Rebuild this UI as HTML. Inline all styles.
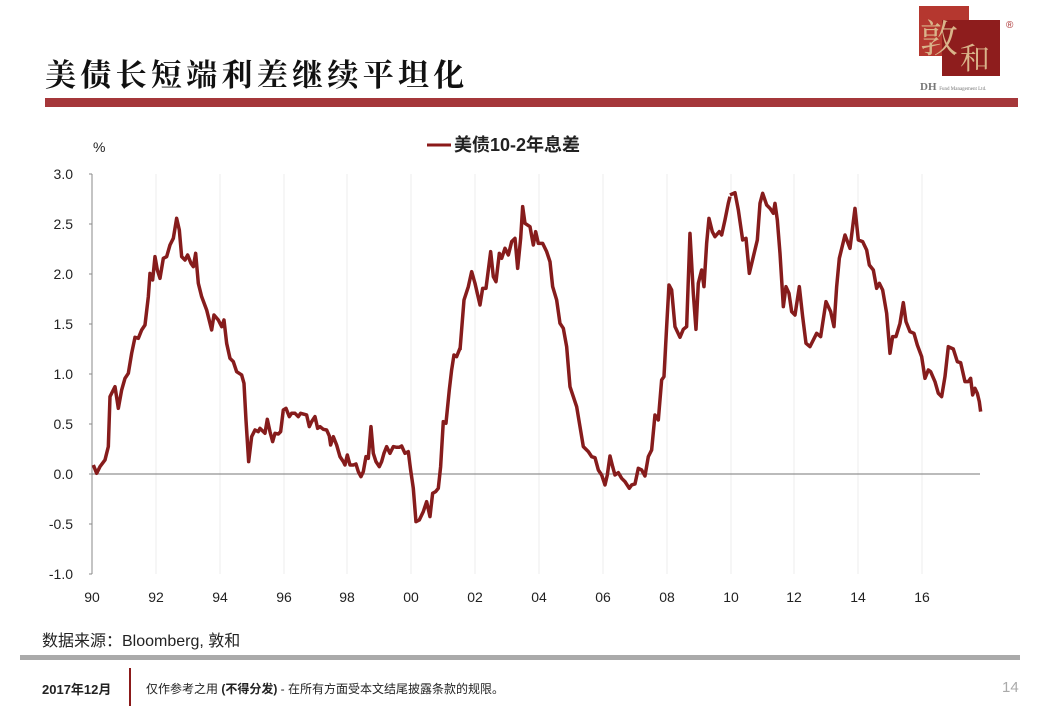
<!DOCTYPE html>
<html><head><meta charset="utf-8"><style>
body{margin:0;width:1064px;height:713px;background:#fff;position:relative;overflow:hidden;font-family:"Liberation Sans","Noto Sans CJK SC",sans-serif}
.a{position:absolute;white-space:nowrap}
</style></head><body>
<div class="a" style="left:45px;top:50px;font-size:31px;font-weight:bold;font-family:'Noto Serif CJK SC','Noto Sans CJK SC',serif;letter-spacing:4.3px;color:#111">美债长短端利差继续平坦化</div>
<div class="a" style="left:45px;top:98px;width:973px;height:9px;background:#a5373a"></div>
<div class="a" style="left:919px;top:6px;width:50px;height:50px;background:#b5372f"></div>
<div class="a" style="left:942px;top:20px;width:58px;height:56px;background:#8e1d1d"></div>
<div class="a" style="left:920px;top:8px;font-size:38px;color:#d9b48a;font-family:'Noto Serif CJK SC',serif">敦</div>
<div class="a" style="left:960px;top:34px;font-size:30px;color:#d9b48a;font-family:'Noto Serif CJK SC',serif">和</div>
<div class="a" style="left:1006px;top:20px;font-size:10px;color:#a33">®</div>
<div class="a" style="left:920px;top:81px;font-size:11px;font-weight:bold;color:#777;font-family:'Liberation Serif',serif">DH <span style="font-size:5px;font-weight:normal">Fund Management Ltd.</span></div>

<svg class="a" style="left:0;top:0" width="1064" height="713">
<g stroke="#eeeeee" stroke-width="1">
<line x1="156" y1="174" x2="156" y2="574"/><line x1="220" y1="174" x2="220" y2="574"/><line x1="284" y1="174" x2="284" y2="574"/><line x1="347" y1="174" x2="347" y2="574"/><line x1="411" y1="174" x2="411" y2="574"/><line x1="475" y1="174" x2="475" y2="574"/><line x1="539" y1="174" x2="539" y2="574"/><line x1="603" y1="174" x2="603" y2="574"/><line x1="667" y1="174" x2="667" y2="574"/><line x1="731" y1="174" x2="731" y2="574"/><line x1="794" y1="174" x2="794" y2="574"/><line x1="858" y1="174" x2="858" y2="574"/><line x1="922" y1="174" x2="922" y2="574"/>
</g>
<g stroke="#888" stroke-width="1">
<line x1="92" y1="174" x2="92" y2="574"/>
<line x1="92" y1="474" x2="980" y2="474" stroke="#777"/>
<line x1="89" y1="174" x2="92" y2="174"/><line x1="89" y1="224" x2="92" y2="224"/><line x1="89" y1="274" x2="92" y2="274"/><line x1="89" y1="324" x2="92" y2="324"/><line x1="89" y1="374" x2="92" y2="374"/><line x1="89" y1="424" x2="92" y2="424"/><line x1="89" y1="474" x2="92" y2="474"/><line x1="89" y1="524" x2="92" y2="524"/><line x1="89" y1="574" x2="92" y2="574"/>
</g>
<g font-size="14" fill="#222" text-anchor="end" font-family="Liberation Sans,sans-serif">
<text x="73" y="179">3.0</text><text x="73" y="229">2.5</text><text x="73" y="279">2.0</text><text x="73" y="329">1.5</text><text x="73" y="379">1.0</text><text x="73" y="429">0.5</text><text x="73" y="479">0.0</text><text x="73" y="529">-0.5</text><text x="73" y="579">-1.0</text>
</g>
<g font-size="14" fill="#222" text-anchor="middle" font-family="Liberation Sans,sans-serif">
<text x="92" y="602">90</text><text x="156" y="602">92</text><text x="220" y="602">94</text><text x="284" y="602">96</text><text x="347" y="602">98</text><text x="411" y="602">00</text><text x="475" y="602">02</text><text x="539" y="602">04</text><text x="603" y="602">06</text><text x="667" y="602">08</text><text x="731" y="602">10</text><text x="794" y="602">12</text><text x="858" y="602">14</text><text x="922" y="602">16</text>
</g>
<text x="93" y="152" font-size="14" fill="#222">%</text>
<line x1="427" y1="145" x2="451" y2="145" stroke="#8b1a1a" stroke-width="3"/>
<text x="454" y="151" font-size="18" font-weight="bold" fill="#222" font-family="Liberation Sans,Noto Sans CJK SC,sans-serif">美债10-2年息差</text>
<g fill="none" stroke="#861c1c" stroke-width="10.5" stroke-linejoin="round">
<polyline transform="translate(60,160) scale(0.3333)" points="100,915 110,940 120,920 135,900 145,860 150,710 165,680 175,745 185,690 195,655 205,640 215,580 225,532 235,535 245,510 255,495 265,410 270,340 278,360 285,290 292,330 300,355 310,295 320,290 330,255 340,235 350,175 358,210 365,290 375,300 383,285 393,310 400,320 407,280 415,370 425,410 440,450 455,510 462,465 475,480 485,500 492,480 500,550 510,595 520,605 530,635 545,645 552,670 558,780 566,905 575,830 585,810 595,815 600,805 610,815 615,820 622,778 630,815 638,845 645,820 655,822 662,815 670,750 678,745 688,770 695,760 705,760 715,770 722,760 740,765 748,800 755,785 765,770 773,805 780,800 790,808 800,810 808,828 812,855 820,830 830,855 840,890 850,905 855,915 862,885 870,915 880,915 888,912 895,935 903,950 910,935 918,890 925,895 933,800 940,880 948,905 958,920 965,905 972,880 980,860 990,880 1000,860 1010,862 1018,862 1025,858 1035,880 1045,875 1052,930 1060,985 1068,1085 1078,1080 1090,1055 1100,1025 1110,1070 1118,1000 1127,995 1135,985 1142,920 1150,785 1158,790 1168,690 1175,630 1182,585 1190,590 1200,565"/>
<polyline transform="translate(450,180) scale(0.3333)" points="30,510 42,360 55,320 65,275 75,310 90,375 98,325 108,325 122,215 130,290 138,305 148,220 155,235 165,205 175,225 185,185 195,175 203,265 212,175 218,80 225,130 240,140 250,195 257,155 265,190 278,190 290,215 300,245 308,320 320,360 330,430 340,445 350,500 360,620 370,650 380,680 390,740 400,800 415,815 425,830 435,833 445,870 455,885 465,915 472,885 480,828 488,860 495,885 505,878 515,895 525,905 538,925 545,915 555,912 565,865 575,870 585,888 595,830 605,810 615,705 625,720 635,600 642,590 650,440 657,315 665,330 675,440 690,472 700,448 710,440 720,160 730,340 738,448 745,310 755,270 762,320 770,190 777,115 787,155 795,170 808,155 815,165 825,120 835,70 840,50"/>
<polyline transform="translate(720,180) scale(0.3333)" points="30,45 45,38 55,90 68,180 78,175 88,280 100,230 112,180 120,70 128,40 140,75 150,85 160,100 165,70 172,120 180,220 190,380 198,320 207,340 215,395 225,405 238,320 248,410 258,490 270,500 290,460 302,470 318,365 332,395 342,440 350,320 358,235 375,165 390,205 405,85 415,180 428,185 440,210 448,255 460,270 470,325 478,310 488,330 500,400 510,520 518,470 528,470 540,430 550,368 558,425 570,455 582,460 592,495 605,530 615,595 625,570 632,575 645,605 655,640 665,650 675,590 685,500 700,507 712,545 722,548 735,605 745,605 752,595 758,645 765,625 772,640 778,665 782,695"/>
</g>
</svg>

<div class="a" style="left:42px;top:627px;font-size:16px;color:#222">数据来源：Bloomberg, 敦和</div>
<div class="a" style="left:20px;top:655px;width:1000px;height:5px;background:#aaa"></div>
<div class="a" style="left:129px;top:668px;width:2px;height:38px;background:#8b1a1a"></div>
<div class="a" style="left:42px;top:679px;font-size:13px;font-weight:bold;color:#222">2017年12月</div>
<div class="a" style="left:146px;top:680px;font-size:12px;color:#222">仅作参考之用 <b>(不得分发)</b> - 在所有方面受本文结尾披露条款的规限。</div>
<div class="a" style="left:1002px;top:679px;font-size:15px;color:#aaa">14</div>
</body></html>
